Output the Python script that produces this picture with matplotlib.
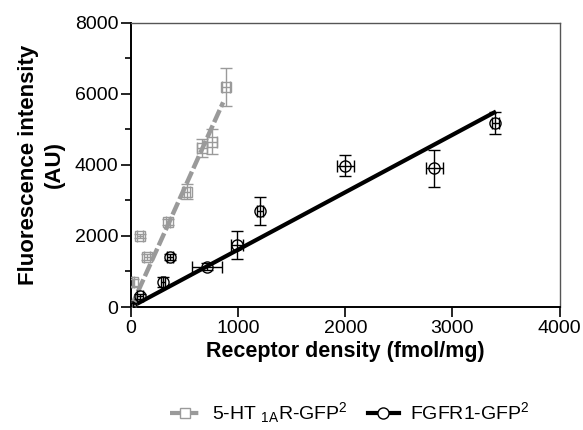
import numpy as np
import matplotlib
matplotlib.use("Agg")
import matplotlib.pyplot as plt
from matplotlib.ticker import MultipleLocator
from matplotlib.lines import Line2D

plt.rcParams["font.family"] = ["Liberation Sans", "DejaVu Sans"]
plt.rcParams["mathtext.default"] = "regular"

# 5-HT1A receptor GFP2 construct
ht_x = [0, 20, 84, 150, 346, 523, 663, 757, 888]
ht_y = [0, 700, 2000, 1400, 2400, 3250, 4480, 4650, 6200]
ht_xerr = [10, 10, 25, 25, 20, 30, 45, 50, 40]
ht_yerr = [60, 100, 60, 80, 90, 200, 250, 350, 530]

# FGFR1 GFP2 construct
fg_x = [0, 84, 300, 364, 710, 990, 1205, 2000, 2832, 3402]
fg_y = [0, 300, 700, 1400, 1130, 1740, 2700, 3980, 3900, 5180]
fg_xerr = [20, 30, 20, 30, 140, 60, 30, 80, 80, 30]
fg_yerr = [100, 80, 150, 80, 100, 400, 400, 300, 530, 300]

# Linear fits through the origin: slope and fitted range
ht_fit = {"slope": 6.7, "xmax": 860}
fg_fit = {"slope": 1.615, "xmax": 3390}

gray = "#9a9a9a"

fig = plt.figure(figsize=(5.83, 4.30), dpi=100)
ax = fig.add_axes([0.2247, 0.286, 0.735, 0.661])

xf = np.linspace(0, ht_fit["xmax"], 50)
ax.plot(xf, ht_fit["slope"] * xf, color=gray, lw=3.2, ls=(0, (3.0, 0.8)),
        zorder=3)
xf2 = np.linspace(0, fg_fit["xmax"], 50)
ax.plot(xf2, fg_fit["slope"] * xf2, color="black", lw=3.0, zorder=3)

ax.errorbar(ht_x, ht_y, xerr=ht_xerr, yerr=ht_yerr, fmt="s", ms=7.5,
            mfc="none", mec=gray, mew=1.0, ecolor=gray, elinewidth=1.0,
            capsize=4, capthick=1.0, zorder=4)
ax.errorbar(fg_x, fg_y, xerr=fg_xerr, yerr=fg_yerr, fmt="o", ms=8,
            mfc="none", mec="black", mew=1.0, ecolor="black",
            elinewidth=1.0, capsize=4, capthick=1.0, zorder=5)

ax.set_xlim(0, 4000)
ax.set_ylim(0, 8000)
ax.xaxis.set_major_locator(MultipleLocator(1000))
ax.yaxis.set_major_locator(MultipleLocator(2000))
ax.yaxis.set_minor_locator(MultipleLocator(1000))
ax.tick_params(axis="both", which="major", direction="out", length=7,
               width=1.2, labelsize=14, pad=2)
ax.tick_params(axis="y", which="minor", direction="out", length=4, width=1.2)
ax.spines["left"].set_linewidth(1.4)
ax.spines["bottom"].set_linewidth(1.4)
for s in ("top", "right"):
    ax.spines[s].set_color("#555555")
    ax.spines[s].set_linewidth(1.0)

ax.set_xlabel("Receptor density (fmol/mg)", fontsize=15.5,
              fontweight="bold", labelpad=3)
ax.set_ylabel("Fluorescence intensity\n(AU)", fontsize=16,
              fontweight="bold", labelpad=7, linespacing=1.3)

h1 = Line2D([], [], color=gray, lw=3, ls=(0, (3.0, 0.8)), marker="s",
            ms=7.5, mfc="white", mec=gray, mew=1.0)
h2 = Line2D([], [], color="black", lw=3, marker="o", ms=8, mfc="white",
            mec="black", mew=1.0)
fig.legend([h1, h2], ["5-HT $_{1A}$R-GFP$^{2}$", "FGFR1-GFP$^{2}$"],
           loc="center", bbox_to_anchor=(0.60, 0.04), ncol=2, frameon=False,
           fontsize=14, handlelength=1.6, columnspacing=1.0,
           handletextpad=0.6)

fig.savefig("out.png", dpi=100)
